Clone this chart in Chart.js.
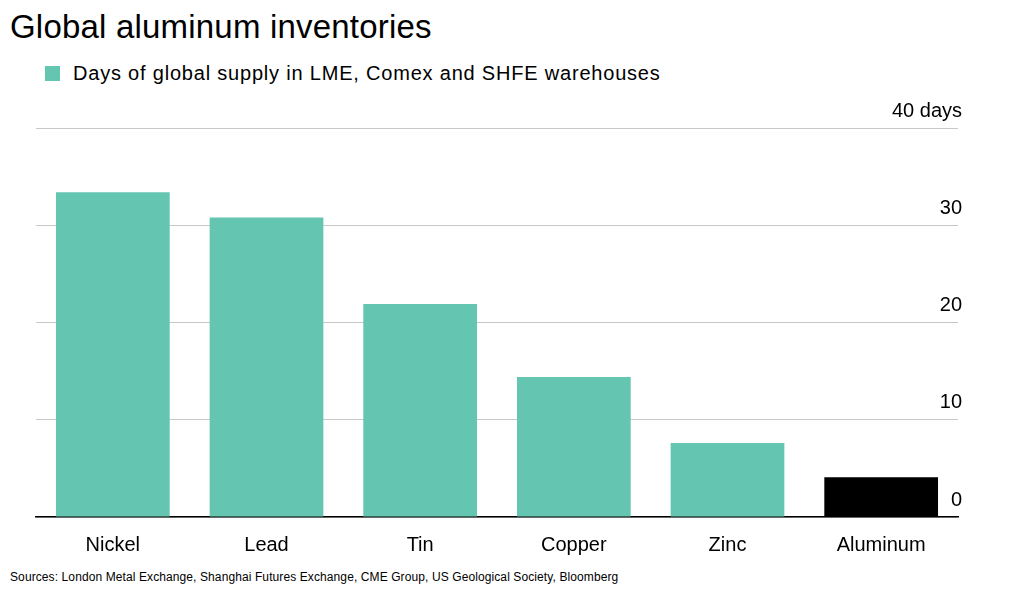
<!DOCTYPE html>
<html>
<head>
<meta charset="utf-8">
<script src="https://cdn.jsdelivr.net/npm/chart.js@4"></script>
<style>
  body { margin: 0; width: 1024px; height: 599px; background: #fff; font-family: "Liberation Sans", Arial, sans-serif; position: relative; overflow: hidden; }
  #title { position: absolute; left: 10px; top: 8px; font-size: 33px; letter-spacing: 0.2px; color: #000; }
  #legend { position: absolute; left: 45px; top: 62px; font-size: 20px; letter-spacing: 0.8px; color: #000; display: flex; align-items: center; }
  #legend span.sw { width: 15px; height: 15px; background: #64c5b1; margin-right: 13px; display: inline-block; }
  #source { position: absolute; left: 10px; top: 570px; font-size: 12px; letter-spacing: 0.1px; color: #000; }
  #wrap { position: absolute; left: 0; top: 95px; width: 1024px; height: 470px; }
</style>
</head>
<body>
<div id="title">Global aluminum inventories</div>
<div id="legend"><span class="sw"></span>Days of global supply in LME, Comex and SHFE warehouses</div>
<div id="wrap"><canvas id="c"></canvas></div>
<div id="source">Sources: London Metal Exchange, Shanghai Futures Exchange, CME Group, US Geological Society, Bloomberg</div>
<script>
// datos
const metals = ["Nickel", "Lead", "Tin", "Copper", "Zinc", "Aluminum"];
const daysSupply = [33.4, 30.8, 21.9, 14.4, 7.6, 4.1];
const barColors = ["#64c5b1", "#64c5b1", "#64c5b1", "#64c5b1", "#64c5b1", "#000000"];

new Chart(document.getElementById("c"), {
  type: "bar",
  data: {
    labels: metals,
    datasets: [{
      label: "Days of global supply in LME, Comex and SHFE warehouses",
      data: daysSupply,
      backgroundColor: barColors,
      barPercentage: 0.74,
      categoryPercentage: 1
    }]
  },
  options: {
    responsive: true,
    maintainAspectRatio: false,
    animation: false,
    layout: { padding: { left: 36, right: 58, top: 33, bottom: 0 } },
    plugins: { legend: { display: false }, tooltip: { enabled: false } },
    scales: {
      x: {
        grid: { display: false },
        border: { color: "#000", width: 1.5 },
        ticks: { color: "#000", font: { size: 20, family: "Liberation Sans" }, padding: 8 }
      },
      y: {
        position: "right",
        min: 0,
        max: 40,
        border: { display: false },
        grid: { color: "#c8c8c8", lineWidth: 1, drawTicks: false },
        ticks: {
          stepSize: 10,
          mirror: true,
          padding: 4,
          labelOffset: -17,
          color: "#000",
          font: { size: 20, family: "Liberation Sans" },
          callback: v => v === 40 ? "40 days" : v
        }
      }
    }
  }
});
</script>
</body>
</html>
